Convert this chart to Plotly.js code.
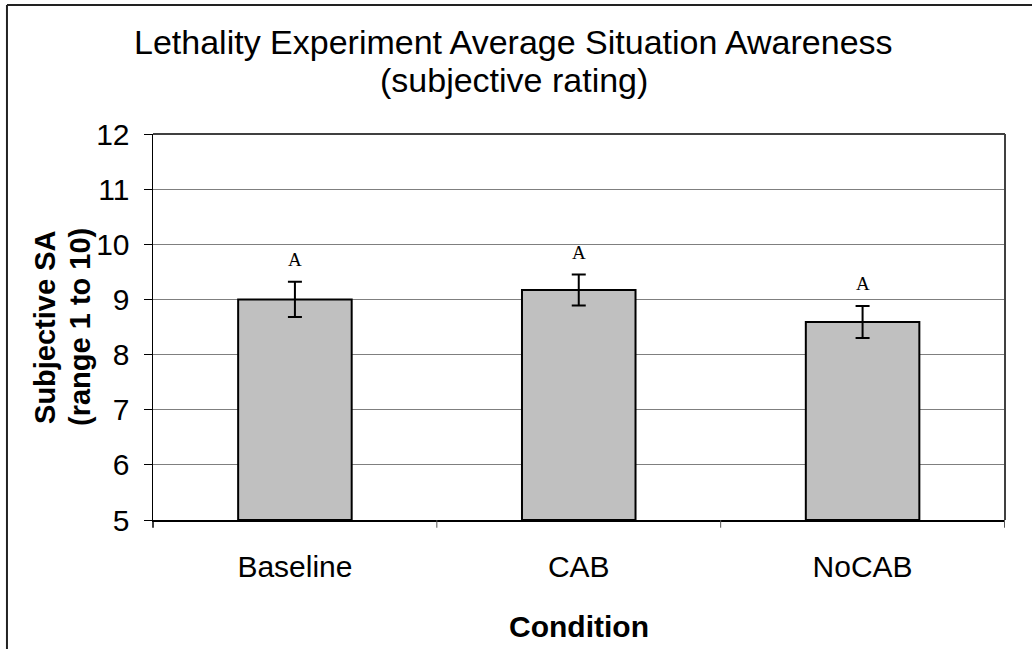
<!DOCTYPE html>
<html>
<head>
<meta charset="utf-8">
<script src="https://cdn.plot.ly/plotly-3.0.1.min.js"></script>
<style>html,body{margin:0;padding:0;background:#fff;}#chart{width:1032px;height:649px;}</style>
</head>
<body>
<div id="chart"></div>
<script>
const categories = ["Baseline", "CAB", "NoCAB"];
const meanSA = [9.0, 9.17, 8.59];
const errorSA = [0.32, 0.28, 0.29];
const groupLabels = ["A", "A", "A"];
const yTicks = [5, 6, 7, 8, 9, 10, 11, 12];
const titleLines = ["Lethality Experiment Average Situation Awareness", "(subjective rating)"];
const yTitleLines = ["Subjective SA", "(range 1 to 10)"];
const axisBase = 5;

const trace = {
  type: "bar",
  x: categories,
  y: meanSA.map((v) => v - axisBase),
  base: axisBase,
  marker: { color: "#C0C0C0", line: { color: "#000000", width: 2 } },
  error_y: { type: "data", array: errorSA, visible: true, color: "#000000", thickness: 2, width: 7 },
  hoverinfo: "skip"
};

const annotations = categories.map((c, i) => ({
  x: c, y: meanSA[i] + errorSA[i], xref: "x", yref: "y",
  text: groupLabels[i], showarrow: false, yanchor: "bottom", yshift: 10,
  font: { family: "Liberation Serif, Times New Roman, serif", size: 19, color: "#000" }
}));

const titleY = [1.238, 1.140];
titleLines.forEach((t, i) => annotations.push({
  text: t, xref: "paper", yref: "paper", x: 0.4237, y: titleY[i],
  xanchor: "center", yanchor: "middle", showarrow: false,
  font: { size: 34, family: "Liberation Sans, Arial, sans-serif", color: "#000" }
}));

const yTitleX = [-0.1268, -0.0857];
yTitleLines.forEach((t, i) => annotations.push({
  text: "<b>" + t + "</b>", xref: "paper", yref: "paper", x: yTitleX[i], y: 0.5,
  xanchor: "center", yanchor: "middle", showarrow: false, textangle: -90,
  font: { size: 29, family: "Liberation Sans, Arial, sans-serif", color: "#000" }
}));

const layout = {
  width: 1032, height: 649,
  margin: { l: 153, r: 27, t: 134, b: 129 },
  paper_bgcolor: "#ffffff", plot_bgcolor: "#ffffff",
  font: { family: "Liberation Sans, Arial, sans-serif", color: "#000" },
  showlegend: false,
  bargap: 0.6,
  xaxis: {
    type: "category",
    showline: true, linecolor: "#000", linewidth: 1.5, mirror: false,
    ticks: "outside", ticklen: 19, tickcolor: "rgba(0,0,0,0)",
    tickfont: { size: 30 },
    title: { text: "<b>Condition</b>", font: { size: 30 }, standoff: 34 },
    showgrid: false, zeroline: false
  },
  yaxis: {
    range: [5, 12],
    tickvals: yTicks,
    ticktext: yTicks.map(String),
    showline: true, linecolor: "#000", linewidth: 1.5,
    ticks: "outside", ticklen: 8, tickcolor: "#000", tickwidth: 1,
    ticklabelstandoff: 8,
    tickfont: { size: 30 },
    showgrid: true, gridcolor: "#7f7f7f", gridwidth: 1,
    zeroline: false
  },
  annotations: annotations,
  shapes: [
    { type: "line", xref: "paper", yref: "paper", x0: 0, x1: 1, y0: 1, y1: 1, line: { color: "#404040", width: 2 } },
    { type: "line", xref: "paper", yref: "paper", x0: 1, x1: 1, y0: 0, y1: 1, line: { color: "#404040", width: 2 } },
    ...[0.5, 1.5, 2.5].map((p) => ({ type: "line", xref: "x", yref: "paper", x0: p, x1: p, y0: 0, y1: -0.02, line: { color: "#555", width: 1 } })),
    { type: "line", xref: "paper", yref: "paper", x0: 0, x1: 0, y0: 0, y1: -0.02, line: { color: "#000", width: 1.5 } },
    { type: "line", xref: "paper", yref: "paper", x0: -0.1714, x1: -0.1714, y0: 1.334, y1: -0.40, line: { color: "#222", width: 2 } },
    { type: "line", xref: "paper", yref: "paper", x0: -0.1714, x1: 1.05, y0: 1.334, y1: 1.334, line: { color: "#222", width: 2 } }
  ]
};

Plotly.newPlot("chart", [trace], layout, { staticPlot: true, displayModeBar: false });
</script>
</body>
</html>
